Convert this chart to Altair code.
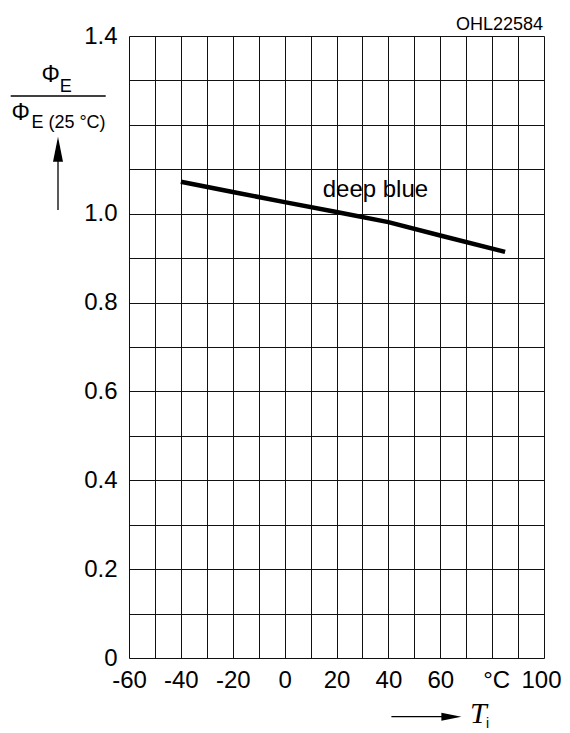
import altair as alt
import pandas as pd

# data
temps = [-40, -20, 0, 20, 40, 60, 85]
ratios = [1.072, 1.049, 1.026, 1.004, 0.981, 0.951, 0.914]
series_label = "deep blue"
label_x = [35]
label_y = [1.0385]
x_grid = list(range(-60, 101, 10))
y_grid = [round(i * 0.1, 1) for i in range(15)]
y_labelled = [0, 0.2, 0.4, 0.6, 0.8, 1.0, 1.4]

SANS = "Liberation Sans"
SERIF = "Liberation Serif"

df = pd.DataFrame({"T": temps, "r": ratios})
one = pd.DataFrame({"a": [0]})

xscale = alt.Scale(domain=[-60, 100], nice=False, zero=False)
yscale = alt.Scale(domain=[0, 1.4], nice=False, zero=False)

y_keep = " || ".join(f"round(datum.value*10) == {round(v * 10)}" for v in y_labelled)

xaxis = alt.Axis(
    values=x_grid, grid=True, gridColor="#111", gridWidth=1, ticks=False, domain=False,
    labelExpr="datum.value % 20 != 0 ? '' : (datum.value == 80 ? '°C' : '' + datum.value)",
    labelFont=SANS, labelFontSize=24, labelColor="black", labelPadding=10,
    labelOffset={"condition": [
        {"test": "datum.value == 100", "value": -3},
        {"test": "datum.value == 80", "value": 4},
    ], "value": 0},
    labelFlush=False, labelOverlap=False, title=None,
)
yaxis = alt.Axis(
    values=y_grid, grid=True, gridColor="#111", gridWidth=1, ticks=False, domain=False,
    labelExpr=f"!({y_keep}) ? '' : (datum.value == 0 ? '0' : format(datum.value, '.1f'))",
    labelFont=SANS, labelFontSize=24, labelColor="black", labelPadding=12,
    labelOverlap=False, labelFlush=False, title=None,
)

line = alt.Chart(df).mark_line(color="black", strokeWidth=4.5, clip=False).encode(
    x=alt.X("T:Q", scale=xscale, axis=xaxis),
    y=alt.Y("r:Q", scale=yscale, axis=yaxis),
)

lbl = alt.Chart(pd.DataFrame({"x": label_x, "y": label_y, "t": [series_label]})).mark_text(
    font=SANS, fontSize=24, color="black", align="center", baseline="alphabetic"
).encode(
    x=alt.X("x:Q", scale=xscale, axis=xaxis),
    y=alt.Y("y:Q", scale=yscale, axis=yaxis),
    text="t:N",
)


def txt(s, px, py, size, font=SANS, style="normal", align="left"):
    return alt.Chart(one).mark_text(
        text=s, font=font, fontSize=size, fontStyle=style, color="black",
        align=align, baseline="alphabetic", clip=False,
    ).encode(x=alt.value(px), y=alt.value(py))


def rule(x1, x2, y1, y2, w=1.3):
    return alt.Chart(one).mark_rule(color="black", strokeWidth=w, clip=False).encode(
        x=alt.value(x1), x2=alt.value(x2), y=alt.value(y1), y2=alt.value(y2)
    )


def head(px, py, path, size):
    return alt.Chart(one).mark_point(
        shape=path, size=size, filled=True, color="black", opacity=1, strokeWidth=0, clip=False
    ).encode(x=alt.value(px), y=alt.value(py))


annots = [
    txt("Φ", -87.6, 45.7, 23),
    txt("E", -69.3, 55.7, 18),
    rule(-118.3, -23.3, 60, 60),
    txt("Φ", -117.6, 84, 23),
    txt("E (25 °C)", -97.6, 92, 18),
    rule(-71, -71, 174, 118),
    head(-71, 113.2, "M0,-1L0.4,1L-0.4,1Z", 625),
    txt("OHL22584", 414, -6, 18, align="right"),
    rule(262.4, 316, 680.7, 680.7),
    head(322.4, 680.7, "M1,0L-1,-0.4L-1,0.4Z", 400),
    txt("T", 341, 687, 30, font=SERIF, style="italic"),
    txt("i", 357, 692, 14),
]

chart = alt.layer(line, lbl, *annots).properties(
    width=415, height=622,
    autosize=alt.AutoSizeParams(type="none"),
    padding={"left": 121, "top": 28, "right": 18, "bottom": 76},
).configure_view(stroke="black", strokeWidth=1.2).configure(background="white")

chart.save("out.html", embed_options={"renderer": "svg", "actions": False})
